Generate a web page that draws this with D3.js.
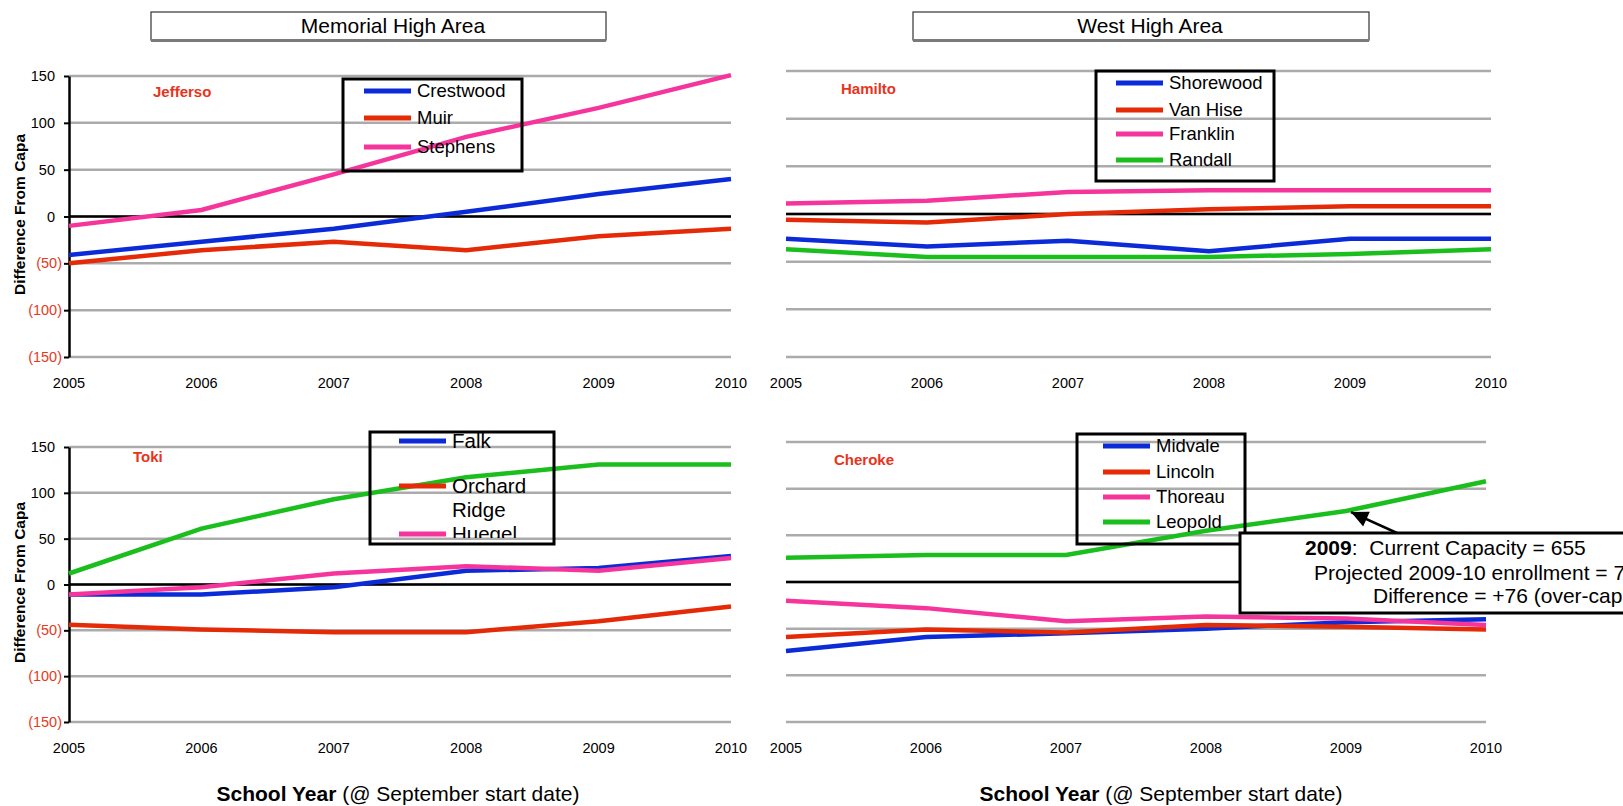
<!DOCTYPE html>
<html>
<head>
<meta charset="utf-8">
<script src="https://cdn.jsdelivr.net/npm/d3@7"></script>
<style>
  body { margin: 0; background: #fff; }
  text { font-family: Arial, 'Liberation Sans', sans-serif; }
</style>
</head>
<body>
<script>

var years = [2005, 2006, 2007, 2008, 2009, 2010];
var yTicks = [150, 100, 50, 0, -50, -100, -150];

// Memorial High Area (Jefferson)
var memorialNames = ['Crestwood', 'Muir', 'Stephens'];
var crestwood = [-41, -27, -13, 5, 24, 40];
var muir = [-50, -36, -27, -36, -21, -13];
var stephens = [-10, 7, 45, 85, 116, 151];

// West High Area (Hamilton)
var westNames = ['Shorewood', 'Van Hise', 'Franklin', 'Randall'];
var shorewood = [-26, -34, -28, -39, -26, -26];
var vanHise = [-6, -9, 0, 5, 8, 8];
var franklin = [11, 14, 23, 25, 25, 25];
var randall = [-37, -45, -45, -45, -42, -37];

// Toki
var tokiNames = ['Falk', 'Orchard Ridge', 'Huegel', null];
var falk = [-11, -11, -3, 15, 18, 31];
var orchardRidge = [-44, -49, -52, -52, -40, -24];
var huegel = [-11, -3, 12, 20, 15, 29];
var tokiGreen = [12, 61, 93, 117, 131, 131];

// Cherokee
var cherokeeNames = ['Midvale', 'Lincoln', 'Thoreau', 'Leopold'];
var midvale = [-74, -59, -55, -50, -43, -40];
var lincoln = [-59, -51, -54, -46, -48, -51];
var thoreau = [-20, -28, -42, -37, -39, -46];
var leopold = [26, 29, 29, 55, 76, 108];

var areaTitles = ['Memorial High Area', 'West High Area'];
var schoolLabels = ['Jefferso', 'Hamilto', 'Toki', 'Cheroke'];
var yTitle = 'Difference From Capa';
var noteYear = 2009;
var noteValue = 76;

var blue = '#0b2bd9', red = '#e52a07', pink = '#f5359b', green = '#1bbf1d';
var negRed = '#e63a1c';

var svg = d3.select('body').append('svg')
  .attr('width', 1623)
  .attr('height', 806);

var defs = svg.append('defs');

var panels = [
  { names: memorialNames, series: [crestwood, muir, stephens], colors: [blue, red, pink],
    school: schoolLabels[0], schoolX: 153, schoolY: 92,
    x0: 69, x1: 731, yTop: 76, yBot: 357, axis: true, labelY: 383, titleClip: 134, titleBottom: 295,
    legend: { x: 343, y: 79, w: 179, h: 92, rows: [91, 118, 147], sx: 364, font: 18.5 } },
  { names: westNames, series: [shorewood, vanHise, franklin, randall], colors: [blue, red, pink, green],
    school: schoolLabels[1], schoolX: 841, schoolY: 89,
    x0: 786, x1: 1491, yTop: 71, yBot: 357, axis: false, labelY: 383,
    legend: { x: 1096, y: 71, w: 178, h: 110, rows: [83, 110, 134, 160], sx: 1116, font: 18.5 } },
  { names: tokiNames, series: [falk, orchardRidge, huegel, tokiGreen], colors: [blue, red, pink, green],
    school: schoolLabels[2], schoolX: 133, schoolY: 457,
    x0: 69, x1: 731, yTop: 447, yBot: 722, axis: true, labelY: 748, titleClip: 502, titleBottom: 663,
    legend: { x: 370, y: 432, w: 184, h: 112, rows: [441, 486, 534], sx: 399, font: 20.5, clipBottom: 538 } },
  { names: cherokeeNames, series: [midvale, lincoln, thoreau, leopold], colors: [blue, red, pink, green],
    school: schoolLabels[3], schoolX: 834, schoolY: 460,
    x0: 786, x1: 1486, yTop: 442, yBot: 722, axis: false, labelY: 748,
    legend: { x: 1077, y: 434, w: 168, h: 110, rows: [446, 472, 497, 522], sx: 1103, font: 18.5 } }
];

panels.forEach(function(p, pi) {
  var g = svg.append('g');
  var x = d3.scaleLinear().domain([2005, 2010]).range([p.x0, p.x1]);
  var y = d3.scaleLinear().domain([-150, 150]).range([p.yBot, p.yTop]);
  p.x = x; p.y = y;

  // grid
  g.selectAll('line.grid').data(yTicks).enter().append('line')
    .attr('x1', p.x0).attr('x2', p.x1)
    .attr('y1', function(d) { return y(d); })
    .attr('y2', function(d) { return y(d); })
    .attr('stroke', '#ababab')
    .attr('stroke-width', 2.5);

  g.append('line')
    .attr('x1', p.x0).attr('x2', p.x1)
    .attr('y1', y(0)).attr('y2', y(0))
    .attr('stroke', '#000')
    .attr('stroke-width', 2.5);

  if (p.axis) {
    var ax = g.append('g')
      .attr('transform', 'translate(' + p.x0 + ',0)')
      .call(d3.axisLeft(y).tickValues(yTicks).tickSize(5).tickSizeOuter(0).tickPadding(9)
        .tickFormat(function(d) { return d < 0 ? '(' + (-d) + ')' : d; }));
    ax.select('.domain').attr('stroke', '#000').attr('stroke-width', 2.5);
    ax.selectAll('.tick line').attr('stroke', '#000').attr('stroke-width', 2);
    ax.selectAll('.tick text')
      .attr('font-size', 14.5)
      .attr('font-family', 'Arial, Liberation Sans, sans-serif')
      .attr('fill', function(d) { return d < 0 ? negRed : '#000'; })
      .attr('x', function(d) { return d < 0 ? -7 : -14; });

    // y title, cut off at the top like the original
    var cid = 'ytclip' + pi;
    defs.append('clipPath').attr('id', cid).append('rect')
      .attr('x', 0).attr('y', p.titleClip).attr('width', 60).attr('height', 400);
    g.append('g')
      .attr('clip-path', 'url(#' + cid + ')')
      .append('text')
      .attr('transform', 'translate(25,' + p.titleBottom + ') rotate(-90)')
      .attr('font-size', 15.5)
      .attr('font-weight', 'bold')
      .text(yTitle);
  }

  // year labels
  g.selectAll('text.year').data(years).enter().append('text')
    .attr('x', function(d) { return x(d); })
    .attr('y', p.labelY)
    .attr('dy', '0.35em')
    .attr('text-anchor', 'middle')
    .attr('font-size', 14.5)
    .text(function(d) { return d; });

  // series
  var line = d3.line()
    .x(function(d, i) { return x(years[i]); })
    .y(function(d) { return y(d); });

  g.selectAll('path.series').data(p.series).enter().append('path')
    .attr('d', function(d) { return line(d); })
    .attr('fill', 'none')
    .attr('stroke', function(d, i) { return p.colors[i]; })
    .attr('stroke-width', 4.5)
    .attr('stroke-linejoin', 'miter');

  // school label
  g.append('text')
    .attr('x', p.schoolX).attr('y', p.schoolY).attr('dy', '0.35em')
    .attr('font-size', 15).attr('font-weight', 'bold')
    .attr('fill', '#e8341c')
    .text(p.school);

  // legend
  var L = p.legend;
  var lid = 'lgclip' + pi;
  var cb = L.clipBottom || (L.y + L.h);
  defs.append('clipPath').attr('id', lid).append('rect')
    .attr('x', L.x).attr('y', L.y).attr('width', L.w).attr('height', cb - L.y);
  var lg = g.append('g').attr('clip-path', 'url(#' + lid + ')');
  p.names.forEach(function(name, i) {
    if (!name || L.rows[i] === undefined) return;
    var ry = L.rows[i];
    lg.append('line')
      .attr('x1', L.sx).attr('x2', L.sx + 47)
      .attr('y1', ry).attr('y2', ry)
      .attr('stroke', p.colors[i]).attr('stroke-width', 5);
    var t = lg.append('text')
      .attr('x', L.sx + 53).attr('y', ry).attr('dy', '0.35em')
      .attr('font-size', L.font);
    if (pi === 2 && name.indexOf(' ') > 0) {
      name.split(' ').forEach(function(w, wi) {
        t.append('tspan').attr('x', L.sx + 53).attr('dy', wi === 0 ? '0.35em' : '1.17em').text(w);
      });
      t.attr('dy', null);
    } else {
      t.text(name);
    }
  });
  g.append('rect')
    .attr('x', L.x).attr('y', L.y).attr('width', L.w).attr('height', L.h)
    .attr('fill', 'none').attr('stroke', '#000').attr('stroke-width', 3);
});

// area title boxes
var titleBoxes = [
  { x: 151, w: 455, tx: 393 },
  { x: 913, w: 456, tx: 1150 }
];
titleBoxes.forEach(function(b, i) {
  svg.append('rect')
    .attr('x', b.x).attr('y', 12).attr('width', b.w).attr('height', 28)
    .attr('fill', '#fff').attr('stroke', '#333').attr('stroke-width', 1.2);
  svg.append('line')
    .attr('x1', b.x).attr('x2', b.x + b.w)
    .attr('y1', 40.5).attr('y2', 40.5)
    .attr('stroke', '#7a7a7a').attr('stroke-width', 3);
  svg.append('text')
    .attr('x', b.tx).attr('y', 26).attr('dy', '0.35em')
    .attr('text-anchor', 'middle')
    .attr('font-size', 21)
    .text(areaTitles[i]);
});

// x axis titles
[398, 1161].forEach(function(cx) {
  var t = svg.append('text')
    .attr('x', cx).attr('y', 794).attr('dy', '0.35em')
    .attr('text-anchor', 'middle')
    .attr('font-size', 21);
  t.append('tspan').attr('font-weight', 'bold').text('School Year');
  t.append('tspan').text(' (@ September start date)');
});

// annotation on Leopold 2009
var br = panels[3];
var tipX = br.x(noteYear) + 5, tipY = br.y(noteValue) + 1;

svg.append('line')
  .attr('x1', 1397).attr('y1', 533)
  .attr('x2', tipX).attr('y2', tipY)
  .attr('stroke', '#000').attr('stroke-width', 2.5);
svg.append('path')
  .attr('d', function() {
    var ang = Math.atan2(tipY - 533, tipX - 1397);
    var len = 17, half = 8;
    var bx = tipX - len * Math.cos(ang), by = tipY - len * Math.sin(ang);
    var px = -Math.sin(ang) * half, py = Math.cos(ang) * half;
    return 'M' + tipX + ',' + tipY + 'L' + (bx + px) + ',' + (by + py) + 'L' + (bx - px) + ',' + (by - py) + 'Z';
  })
  .attr('fill', '#000');

svg.append('rect')
  .attr('x', 1240).attr('y', 533).attr('width', 400).attr('height', 80)
  .attr('fill', '#fff').attr('stroke', '#000').attr('stroke-width', 3);

var n1 = svg.append('text').attr('x', 1305).attr('y', 548).attr('dy', '0.35em')
  .attr('font-size', 21).style('white-space', 'pre');
n1.append('tspan').attr('font-weight', 'bold').text(noteYear);
n1.append('tspan').text(':  Current Capacity = 655');
svg.append('text').attr('x', 1314).attr('y', 573).attr('dy', '0.35em')
  .attr('font-size', 21).text('Projected 2009-10 enrollment = 731');
svg.append('text').attr('x', 1373).attr('y', 596).attr('dy', '0.35em')
  .attr('font-size', 21).text('Difference = +' + noteValue + ' (over-capacity)');

</script>
</body>
</html>
